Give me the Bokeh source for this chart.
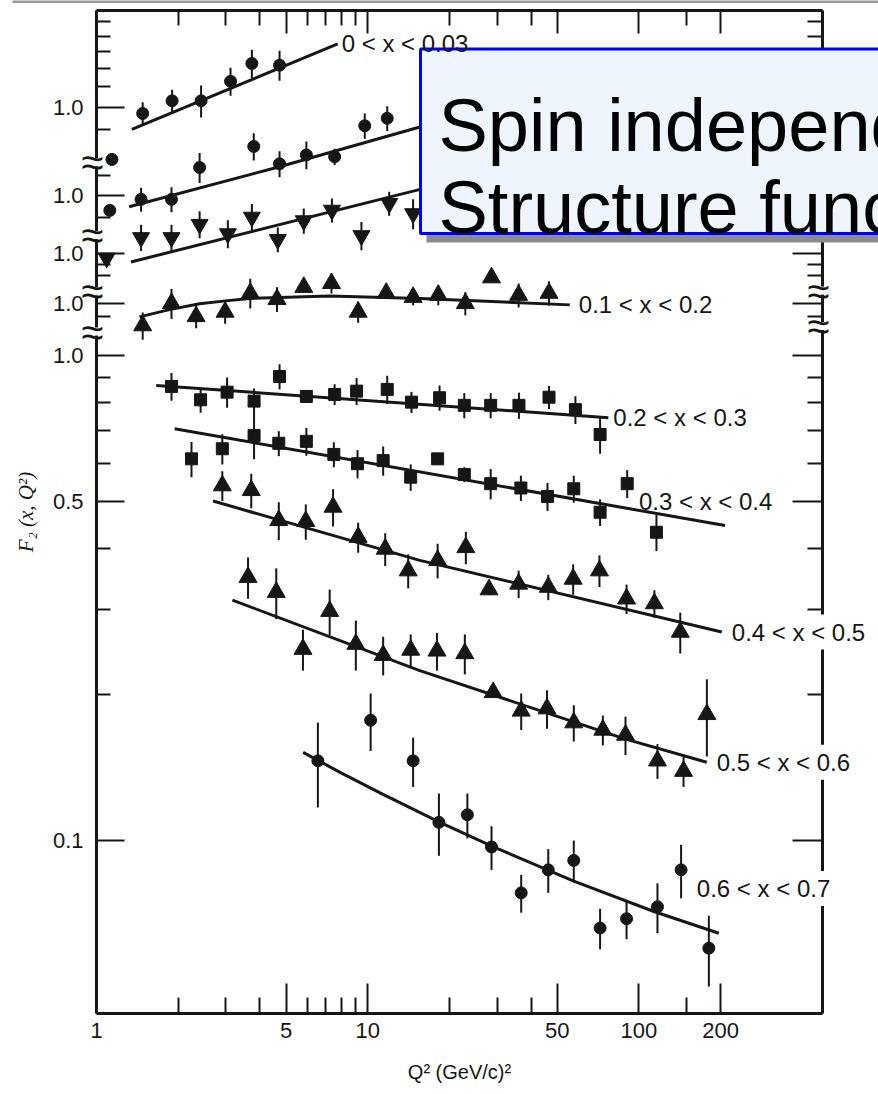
from math import log10
from bokeh.plotting import figure
from bokeh.models import Range1d, FixedTicker, LogAxis, Label, ColumnDataSource
from bokeh.embed import file_html
from bokeh.resources import INLINE

# ---------------------------------------------------------------------------
# F2(x, Q^2) measurements: Q^2 in (GeV/c)^2, F2 value, error on F2
# plus the fitted curves (node points) for each x bin
# ---------------------------------------------------------------------------
q2_b1 = [1.14, 1.48, 1.90, 2.43, 3.12, 3.74, 4.73]
f2_b1 = [0.78, 0.97, 1.03, 1.03, 1.13, 1.23, 1.22]
er_b1 = [0.0, 0.053, 0.056, 0.078, 0.075, 0.082, 0.087]
fit_q2_b1 = [1.35, 7.75]
fit_f2_b1 = [0.90, 1.35]

q2_b2 = [1.12, 1.46, 1.89, 2.40, 3.80, 4.73, 5.94, 7.55, 9.75, 11.8]
f2_b2 = [0.93, 0.98, 0.98, 1.14, 1.26, 1.16, 1.21, 1.20, 1.39, 1.44]
er_b2 = [0.0, 0.056, 0.058, 0.081, 0.081, 0.071, 0.080, 0.046, 0.083, 0.085]
fit_q2_b2 = [1.32, 4.73, 18.5]
fit_f2_b2 = [0.946, 1.144, 1.42]

q2_b3 = [1.09, 1.46, 1.89, 2.40, 3.05, 3.74, 4.66, 5.81, 7.38, 9.48, 12.0, 14.7]
f2_b3 = [0.98, 1.08, 1.08, 1.15, 1.10, 1.19, 1.07, 1.17, 1.23, 1.09, 1.27, 1.21]
er_b3 = [0.0, 0.067, 0.067, 0.074, 0.073, 0.076, 0.063, 0.070, 0.070, 0.073, 0.072, 0.086]
fit_q2_b3 = [1.34, 18.5]
fit_f2_b3 = [0.962, 1.39]

q2_b4 = [1.48, 1.89, 2.33, 2.98, 3.69, 4.63, 5.81, 7.35, 9.22, 11.7, 14.7, 18.2,
         22.9, 28.6, 36.0, 46.6]
f2_b4 = [0.90, 1.00, 0.94, 0.96, 1.05, 1.02, 1.08, 1.10, 0.96, 1.05, 1.03, 1.04,
         1.00, 1.13, 1.04, 1.05]
er_b4 = [0.058, 0.071, 0.051, 0.052, 0.074, 0.060, 0.02, 0.052, 0.048, 0.02, 0.039,
         0.049, 0.055, 0.02, 0.059, 0.060]
fit_q2_b4 = [1.44, 1.875, 2.40, 2.99, 3.67, 7.24, 15.6, 55.6]
fit_f2_b4 = [0.938, 0.972, 0.998, 1.012, 1.024, 1.036, 1.024, 0.993]

q2_b5 = [1.89, 2.42, 3.03, 3.81, 4.73, 5.94, 7.55, 9.10, 11.8, 14.5, 18.4, 22.7,
         28.4, 36.1, 46.6, 58.3, 71.9]
f2_b5 = [0.863, 0.810, 0.840, 0.805, 0.905, 0.823, 0.831, 0.844, 0.851, 0.801,
         0.818, 0.789, 0.789, 0.789, 0.820, 0.773, 0.687]
er_b5 = [0.057, 0.048, 0.060, 0.050, 0.054, 0.025, 0.041, 0.054, 0.057, 0.040,
         0.049, 0.047, 0.047, 0.049, 0.045, 0.051, 0.060]
fit_q2_b5 = [1.66, 77.1]
fit_f2_b5 = [0.867, 0.744]

q2_b6 = [2.24, 2.91, 3.81, 4.70, 5.94, 7.50, 9.17, 11.4, 14.4, 18.1, 22.7, 28.4,
         36.7, 46.0, 57.5, 71.9, 90.5, 116]
f2_b6 = [0.612, 0.642, 0.684, 0.659, 0.665, 0.625, 0.598, 0.607, 0.561, 0.612,
         0.568, 0.544, 0.533, 0.512, 0.531, 0.475, 0.544, 0.432]
er_b6 = [0.051, 0.046, 0.073, 0.039, 0.044, 0.037, 0.040, 0.042, 0.035, 0.012,
         0.020, 0.039, 0.032, 0.034, 0.034, 0.030, 0.036, 0.037]
fit_q2_b6 = [1.94, 207.6]
fit_f2_b6 = [0.706, 0.446]

q2_b7 = [2.91, 3.72, 4.70, 5.91, 7.45, 9.22, 11.6, 14.1, 18.1, 23.0, 28.0, 36.0,
         46.3, 57.2, 71.5, 90.0, 114, 142]
f2_b7 = [0.539, 0.527, 0.457, 0.455, 0.487, 0.422, 0.399, 0.360, 0.378, 0.402,
         0.329, 0.338, 0.333, 0.346, 0.360, 0.315, 0.308, 0.269]
er_b7 = [0.038, 0.043, 0.041, 0.038, 0.043, 0.030, 0.031, 0.029, 0.031, 0.031,
         0.008, 0.022, 0.020, 0.025, 0.027, 0.022, 0.020, 0.026]
fit_q2_b7 = [2.69, 15.56, 202]
fit_f2_b7 = [0.501, 0.378, 0.269]

q2_b8 = [3.62, 4.60, 5.77, 7.24, 9.04, 11.4, 14.4, 18.0, 22.8, 29.0, 36.8, 45.8,
         57.5, 73.6, 89.2, 117, 146, 178]
f2_b8 = [0.349, 0.325, 0.248, 0.297, 0.254, 0.241, 0.247, 0.246, 0.243, 0.202,
         0.185, 0.187, 0.175, 0.169, 0.165, 0.146, 0.139, 0.182]
er_b8 = [0.034, 0.039, 0.024, 0.032, 0.030, 0.022, 0.019, 0.022, 0.023, 0.005,
         0.016, 0.017, 0.015, 0.012, 0.015, 0.012, 0.010, 0.033]
fit_q2_b8 = [3.17, 15.56, 88.7, 177.7]
fit_f2_b8 = [0.313, 0.224, 0.162, 0.145]

q2_b9 = [6.55, 10.25, 14.7, 18.3, 23.3, 28.6, 36.8, 46.3, 57.5, 71.9, 90.0, 117,
         143, 181]
f2_b9 = [0.146, 0.177, 0.146, 0.109, 0.113, 0.097, 0.078, 0.087, 0.091, 0.066,
         0.069, 0.073, 0.087, 0.060]
er_b9 = [0.029, 0.024, 0.017, 0.016, 0.012, 0.010, 0.007, 0.009, 0.009, 0.0063,
         0.0064, 0.0086, 0.011, 0.010]
fit_q2_b9 = [5.78, 7.94, 11.15, 18.29, 29.2, 57.5, 113.5, 197]
fit_f2_b9 = [0.152, 0.138, 0.1252, 0.1093, 0.0969, 0.0825, 0.0714, 0.0644]

# vertical display shift of the four lowest-x bins (each has its own "1.0")
shift_b1, shift_b2, shift_b3, shift_b4 = 3.25, 2.14, 1.62, 1.28

# curve labels
label_b1 = "0 < x < 0.03"
label_b4 = "0.1 < x < 0.2"
label_b5 = "0.2 < x < 0.3"
label_b6 = "0.3 < x < 0.4"
label_b7 = "0.4 < x < 0.5"
label_b8 = "0.5 < x < 0.6"
label_b9 = "0.6 < x < 0.7"
label_pos_b6 = (100.0, 0.5)
label_pos_b9 = (158.0, 0.0796)

# axis ticks
x_major = [1, 5, 10, 50, 100, 200]
x_major_text = ["1", "5", "10", "50", "100", "200"]
x_minor = [2, 3, 4, 6, 7, 8, 9, 20, 30, 40, 150]
y_major_main = [0.1, 0.5, 1.0]
y_major_text = ["0.1", "0.5", "1.0"]
y_minor_main = [0.2, 0.3, 0.4, 0.6, 0.7, 0.8, 0.9, 1.2]
y_minor_b1 = [0.9, 1.1, 1.2, 1.3, 1.4, 1.5]
y_minor_b2 = [0.9, 1.1]
y_minor_b3 = [0.9]
y_minor_b4 = [1.2]
# axis-break marks (display values)
breaks_left = [2.50, 1.77, 1.355, 1.12]
breaks_right = [1.36, 1.15]

title_lines = ["Spin independent", "Structure functions"]

# ---------------------------------------------------------------------------
# layout: the plot frame covers the whole canvas, the axes are pinned to the
# data box [X_LO, X_HI] x [Y_LO, Y_HI] drawn at the pixel box AX_*
# ---------------------------------------------------------------------------
W, H = 878, 1094
AX_L, AX_R, AX_T, AX_B = 96, 822, 10, 1013
X_LO, X_HI = 1.0, 475.0
Y_LO, Y_HI = 0.044, 5.14
DEC_X = (AX_R - AX_L) / log10(X_HI / X_LO)
DEC_Y = (AX_B - AX_T) / log10(Y_HI / Y_LO)
INK = "#161616"
SANS = "Liberation Sans"


def qx(px):
    """canvas x pixel -> Q^2"""
    return X_LO * 10 ** ((px - AX_L) / DEC_X)


def fy(py):
    """canvas y pixel -> displayed F2"""
    return Y_HI * 10 ** (-(py - AX_T) / DEC_Y)


p = figure(width=W, height=H, x_axis_type="log", y_axis_type="log",
           x_range=Range1d(qx(0), qx(W)), y_range=Range1d(fy(H), fy(0)),
           output_backend="svg", toolbar_location=None,
           min_border=0, min_border_left=0, min_border_right=0,
           min_border_top=0, min_border_bottom=0)
p.grid.visible = False
p.outline_line_color = None
p.background_fill_color = "white"
p.border_fill_color = "white"

# ---- tickers ----
x_ticker = FixedTicker(ticks=x_major, minor_ticks=x_minor)
shifts = [shift_b1, shift_b2, shift_b3, shift_b4]
y_major = y_major_main + [1.0 * s for s in shifts]
y_minor = (y_minor_main + [v * shift_b1 for v in y_minor_b1]
           + [v * shift_b2 for v in y_minor_b2] + [v * shift_b3 for v in y_minor_b3]
           + [v * shift_b4 for v in y_minor_b4])
y_ticker = FixedTicker(ticks=y_major, minor_ticks=y_minor)
y_text = {v: t for v, t in zip(y_major_main, y_major_text)}
y_text.update({1.0 * s: "1.0" for s in shifts})


def style_axis(ax, major_in, minor_in):
    ax.axis_line_width = 3
    ax.axis_line_color = INK
    ax.major_tick_line_width = 2
    ax.minor_tick_line_width = 2
    ax.major_tick_line_color = INK
    ax.minor_tick_line_color = INK
    ax.major_tick_in = major_in
    ax.major_tick_out = 0
    ax.minor_tick_in = minor_in
    ax.minor_tick_out = 0
    ax.major_label_text_font = SANS
    ax.major_label_text_color = INK


bottom = p.below[0]
bottom.ticker = x_ticker
bottom.fixed_location = Y_LO
bottom.bounds = (X_LO, X_HI)
style_axis(bottom, 30, 16)
bottom.major_label_overrides = {v: t for v, t in zip(x_major, x_major_text)}
bottom.major_label_text_font_size = "22px"
bottom.major_label_standoff = 9
bottom.axis_label = "Q\u00b2 (GeV/c)\u00b2"
bottom.axis_label_text_font = SANS
bottom.axis_label_text_font_style = "normal"
bottom.axis_label_text_font_size = "20px"
bottom.axis_label_text_color = INK
bottom.axis_label_standoff = 20

left = p.left[0]
left.ticker = y_ticker
left.fixed_location = X_LO
left.bounds = (Y_LO, Y_HI)
style_axis(left, 28, 14)
left.major_label_overrides = y_text
left.major_label_text_font_size = "22px"
left.major_label_standoff = 13
left.axis_label = "F\u2082 (x, Q\u00b2)"
left.axis_label_text_font = "Liberation Serif"
left.axis_label_text_font_style = "italic"
left.axis_label_text_font_size = "21px"
left.axis_label_text_color = INK
left.axis_label_standoff = 12

top = LogAxis(ticker=x_ticker, fixed_location=Y_HI, bounds=(X_LO, X_HI))
style_axis(top, 23, 15)
top.major_label_overrides = {v: "" for v in x_major}
top.major_label_text_font_size = "0px"
top.major_label_standoff = 0
p.add_layout(top, "above")

right = LogAxis(ticker=y_ticker, fixed_location=X_HI, bounds=(Y_LO, Y_HI))
style_axis(right, 30, 15)
right.major_label_overrides = {v: "" for v in y_major}
right.major_label_text_font_size = "0px"
right.major_label_standoff = 0
p.add_layout(right, "right")

# thin grey rule along the top edge of the page
p.quad(left=qx(12), right=qx(W + 10), top=fy(-2), bottom=fy(2.5),
       fill_color="#9a9a9a", line_color=None)

# ---- data: error bars, markers and fitted curves ----
bins = [
    (q2_b1, f2_b1, er_b1, fit_q2_b1, fit_f2_b1, shift_b1, "circle", 12),
    (q2_b2, f2_b2, er_b2, fit_q2_b2, fit_f2_b2, shift_b2, "circle", 12),
    (q2_b3, f2_b3, er_b3, fit_q2_b3, fit_f2_b3, shift_b3, "inverted_triangle", 17),
    (q2_b4, f2_b4, er_b4, fit_q2_b4, fit_f2_b4, shift_b4, "triangle", 18),
    (q2_b5, f2_b5, er_b5, fit_q2_b5, fit_f2_b5, 1.0, "square", 12),
    (q2_b6, f2_b6, er_b6, fit_q2_b6, fit_f2_b6, 1.0, "square", 12),
    (q2_b7, f2_b7, er_b7, fit_q2_b7, fit_f2_b7, 1.0, "triangle", 18),
    (q2_b8, f2_b8, er_b8, fit_q2_b8, fit_f2_b8, 1.0, "triangle", 18),
    (q2_b9, f2_b9, er_b9, fit_q2_b9, fit_f2_b9, 1.0, "circle", 12),
]

for q2, f2, er, fq, ff, s, marker, size in bins:
    src = ColumnDataSource(dict(
        q=q2,
        f=[v * s for v in f2],
        lo=[(v - e) * s for v, e in zip(f2, er)],
        hi=[(v + e) * s for v, e in zip(f2, er)],
    ))
    p.segment("q", "lo", "q", "hi", source=src, line_width=2, line_color=INK)
    p.scatter("q", "f", source=src, marker=marker, size=size,
              fill_color=INK, line_color=INK)
    p.line(list(fq), [v * s for v in ff], line_width=3, line_color=INK,
           line_join="round")


# ---- curve labels ----
def curve_label(text, x, y, dx, boxed=False):
    lab = Label(x=x, y=y, text=text, x_offset=dx, text_align="left",
                text_baseline="middle", text_font=SANS, text_font_size="24px",
                text_color=INK)
    if boxed:
        lab.background_fill_color = "white"
        lab.padding = 4
    p.add_layout(lab)


curve_label(label_b1, fit_q2_b1[-1], fit_f2_b1[-1] * shift_b1, 4)
curve_label(label_b4, fit_q2_b4[-1], fit_f2_b4[-1] * shift_b4, 9)
curve_label(label_b5, fit_q2_b5[-1], fit_f2_b5[-1], 5)
curve_label(label_b6, label_pos_b6[0], label_pos_b6[1], 0)
curve_label(label_b7, fit_q2_b7[-1], fit_f2_b7[-1], 6, boxed=True)
curve_label(label_b8, fit_q2_b8[-1], fit_f2_b8[-1], 6, boxed=True)
curve_label(label_b9, label_pos_b9[0], label_pos_b9[1], 0, boxed=True)

# ---- axis-break marks: a short gap in the axis line plus a double wave ----
gaps = p.rect(x=[X_LO] * len(breaks_left) + [X_HI] * len(breaks_right),
              y=breaks_left + breaks_right, width=10, height=8,
              width_units="screen", height_units="screen",
              fill_color="white", line_color=None)
gaps.level = "annotation"
for yb in breaks_left:
    p.add_layout(Label(x=X_LO, y=yb, text="\u2248", x_offset=-4,
                       text_align="center", text_baseline="middle",
                       text_font=SANS, text_font_size="40px", text_color=INK,
                       level="overlay"))
for yb in breaks_right:
    p.add_layout(Label(x=X_HI, y=yb, text="\u2248", x_offset=-4,
                       text_align="center", text_baseline="middle",
                       text_font=SANS, text_font_size="40px", text_color=INK,
                       level="overlay"))

# ---- title panel with drop shadow ----
shadow = p.quad(left=qx(426), right=qx(W + 40), top=fy(56), bottom=fy(242),
                fill_color="#8c8c8c", line_color=None)
shadow.level = "annotation"
panel = p.quad(left=qx(420), right=qx(W + 40), top=fy(48.5), bottom=fy(233),
               fill_color="#eef5fd", line_color="#0000ff", line_width=3)
panel.level = "annotation"
for line_text, base_px in zip(title_lines, [125, 207]):
    p.add_layout(Label(x=qx(438), y=fy(base_px), text=line_text,
                       text_align="left", text_baseline="alphabetic",
                       text_font=SANS, text_font_size="74px",
                       text_color="black", level="overlay"))

open("out.html", "w").write(file_html(p, INLINE))
